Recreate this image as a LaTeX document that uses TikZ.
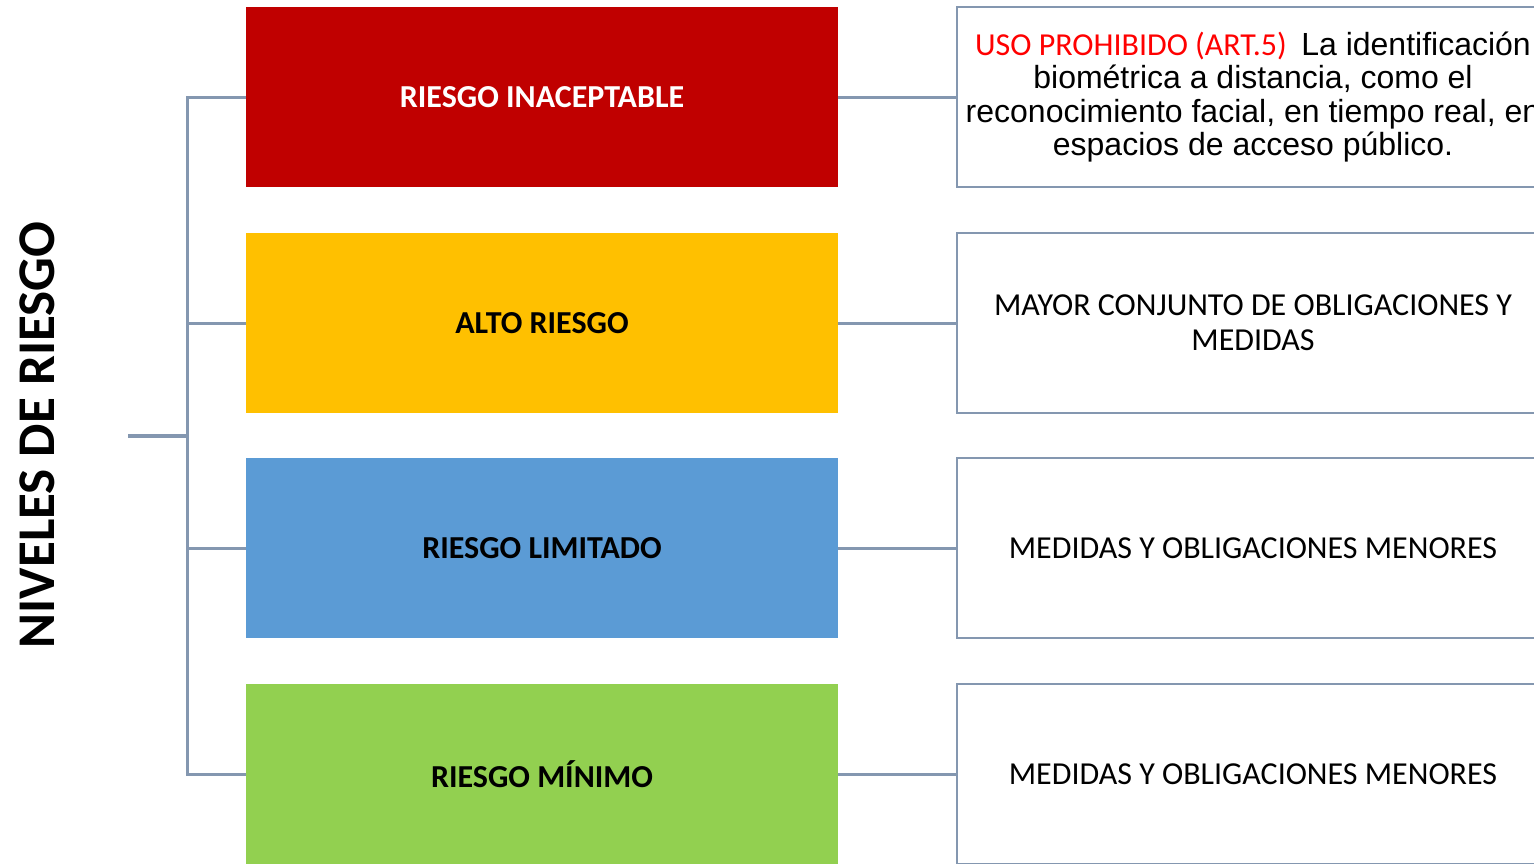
\documentclass[tikz,border=0pt]{standalone}
\usepackage{fontspec}
\setmainfont{Carlito}
\newfontfamily\arialfont{Liberation Sans}
\definecolor{lnc}{HTML}{8497B0}
\definecolor{cRed}{HTML}{C00000}
\definecolor{cYel}{HTML}{FFC000}
\definecolor{cBlu}{HTML}{5B9BD5}
\definecolor{cGrn}{HTML}{92D050}
\definecolor{cTxtRed}{HTML}{FF0000}
\tikzset{
  lvl/.style={minimum width=592pt, minimum height=180pt, inner sep=0pt, draw=none,
    font=\fontsize{32}{36}\selectfont\bfseries},
  desc/.style={minimum width=592pt, minimum height=180pt, inner sep=0pt, draw=lnc,
    line width=2pt, fill=white, align=center, font=\fontsize{32}{35}\selectfont},
  conn/.style={draw=lnc, line width=3pt},
}
\begin{document}
\begin{tikzpicture}[x=1pt,y=-1pt]
\useasboundingbox (0,0) rectangle (1534,863);
\clip (0,0) rectangle (1534,863);
\node[rotate=90, font=\fontsize{53}{58}\selectfont\bfseries] (title) at (37,435) {NIVELES DE RIESGO};
\node[lvl, fill=cRed, text=white] (l1) at (542,97) {RIESGO INACEPTABLE};
\node[lvl, fill=cYel] (l2) at (542,323) {ALTO RIESGO};
\node[lvl, fill=cBlu] (l3) at (542,548) {RIESGO LIMITADO};
\node[lvl, fill=cGrn] (l4) at (542,774) {RIESGO MÍNIMO};
\node[desc, font=\fontsize{32}{33.5}\selectfont] (r1) at (1253,97) {{\color{cTxtRed}USO PROHIBIDO (ART.5)}\ \ {\arialfont La identificación}\\
  {\arialfont biométrica a distancia, como el}\\
  {\arialfont reconocimiento facial, en tiempo real, en}\\
  {\arialfont espacios de acceso público.}};
\node[desc] (r2) at (1253,323) {MAYOR CONJUNTO DE OBLIGACIONES Y\\MEDIDAS};
\node[desc] (r3) at (1253,548) {MEDIDAS Y OBLIGACIONES MENORES};
\node[desc] (r4) at (1253,774) {MEDIDAS Y OBLIGACIONES MENORES};
\coordinate (root) at (128,436);
\coordinate (trunk) at (187,436);
\draw[conn, line width=3.5pt] (root) -- (trunk);
\foreach \i in {1,2,3,4} {
  \draw[conn] (trunk) |- (l\i.west);
  \draw[conn] (l\i.east) -- (r\i.west);
}
\end{tikzpicture}
\end{document}
